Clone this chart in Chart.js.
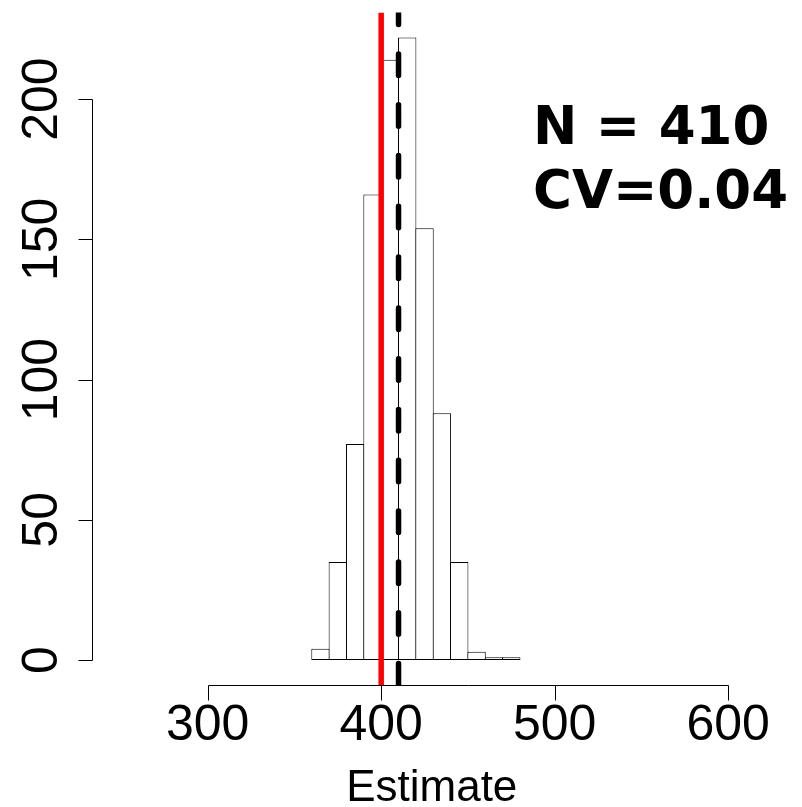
<!DOCTYPE html>
<html>
<head>
<meta charset="utf-8">
<script src="https://cdn.jsdelivr.net/npm/chart.js@4"></script>
<style>
  html, body { margin: 0; padding: 0; background: #fff; }
  canvas { display: block; }
</style>
</head>
<body>
<canvas id="hist" width="802" height="807"></canvas>
<script>
// histogram bins (left edge) and counts
const binStarts = [360, 370, 380, 390, 400, 410, 420, 430, 440, 450, 460, 470];
const binWidth = 10;
const counts = [4, 35, 77, 166, 214, 222, 154, 88, 35, 3, 1, 1];

// reference lines
const trueValue = 400;
const meanEstimate = 410;

// axis ticks
const xTicks = [300, 400, 500, 600];
const yTicks = [0, 50, 100, 150, 200];

// plot ranges (R style 4% extension)
const xMin = 233.3, xMax = 625;
const yMin = -8.88, yMax = 230.88;

const annotation = ['N = 410', 'CV=0.04'];
const xLabel = 'Estimate';

const barData = binStarts.map((s, i) => ({x: s + binWidth / 2, y: counts[i]}));

const bgPlugin = {
    id: 'bg',
    beforeDraw(chart) {
        const c = chart.ctx;
        c.save();
        c.fillStyle = '#fff';
        c.fillRect(0, 0, chart.width, chart.height);
        c.restore();
    }
};

const rAxes = {
    id: 'rAxes',
    afterDraw(chart) {
        const c = chart.ctx;
        const xs = chart.scales.x, ys = chart.scales.y;
        const area = chart.chartArea;
        c.save();
        c.strokeStyle = '#000';
        c.lineWidth = 1;
        c.fillStyle = '#000';

        // y axis
        const ax = Math.round(area.left) + 0.5;
        c.beginPath();
        c.moveTo(ax, Math.round(ys.getPixelForValue(yTicks[0])) + 0.5);
        c.lineTo(ax, Math.round(ys.getPixelForValue(yTicks[yTicks.length - 1])) + 0.5);
        yTicks.forEach(t => {
            const py = Math.round(ys.getPixelForValue(t)) + 0.5;
            c.moveTo(ax, py);
            c.lineTo(ax - 14, py);
        });
        c.stroke();
        c.font = '50px "Liberation Sans", Arial, sans-serif';
        c.textAlign = 'center';
        c.textBaseline = 'alphabetic';
        yTicks.forEach(t => {
            c.save();
            c.translate(57, ys.getPixelForValue(t));
            c.rotate(-Math.PI / 2);
            c.fillText(String(t), 0, 0);
            c.restore();
        });

        // x axis
        const ay = Math.round(area.bottom) + 0.5;
        c.beginPath();
        c.moveTo(Math.round(xs.getPixelForValue(xTicks[0])) + 0.5, ay);
        c.lineTo(Math.round(xs.getPixelForValue(xTicks[xTicks.length - 1])) + 0.5, ay);
        xTicks.forEach(t => {
            const px = Math.round(xs.getPixelForValue(t)) + 0.5;
            c.moveTo(px, ay);
            c.lineTo(px, ay + 15);
        });
        c.stroke();
        xTicks.forEach(t => {
            c.fillText(String(t), xs.getPixelForValue(t), 740);
        });

        c.font = '44px "Liberation Sans", Arial, sans-serif';
        c.fillText(xLabel, (area.left + area.right) / 2, 801);

        // annotation
        c.font = 'bold 53px "DejaVu Sans", Verdana, sans-serif';
        c.textAlign = 'left';
        annotation.forEach((line, i) => {
            c.fillText(line, 533, 144 + i * 64);
        });
        c.restore();
    }
};

new Chart(document.getElementById('hist'), {
    type: 'bar',
    data: {
        datasets: [
            {
                type: 'bar',
                data: barData,
                backgroundColor: '#fff',
                borderColor: '#000',
                borderWidth: 1,
                borderSkipped: false,
                inflateAmount: 0,
                barPercentage: 1.058,
                categoryPercentage: 1,
                order: 3
            },
            {
                type: 'line',
                data: [{x: trueValue, y: yMin}, {x: trueValue, y: yMax}],
                borderColor: '#ff0000',
                borderWidth: 5.5,
                pointRadius: 0,
                order: 2
            },
            {
                type: 'line',
                data: [{x: meanEstimate, y: yMin}, {x: meanEstimate, y: yMax}],
                borderColor: '#000',
                borderWidth: 5.5,
                borderDash: [21.5, 29.3],
                borderCapStyle: 'round',
                pointRadius: 0,
                order: 1
            }
        ]
    },
    options: {
        responsive: false,
        animation: false,
        devicePixelRatio: 1,
        layout: { padding: { left: 92, right: 30.5, top: 12.5, bottom: 122 } },
        scales: {
            x: { type: 'linear', min: xMin, max: xMax, display: false, offset: false },
            y: { type: 'linear', min: yMin, max: yMax, display: false }
        },
        plugins: { legend: { display: false }, tooltip: { enabled: false } },
        events: []
    },
    plugins: [bgPlugin, rAxes]
});
</script>
</body>
</html>
